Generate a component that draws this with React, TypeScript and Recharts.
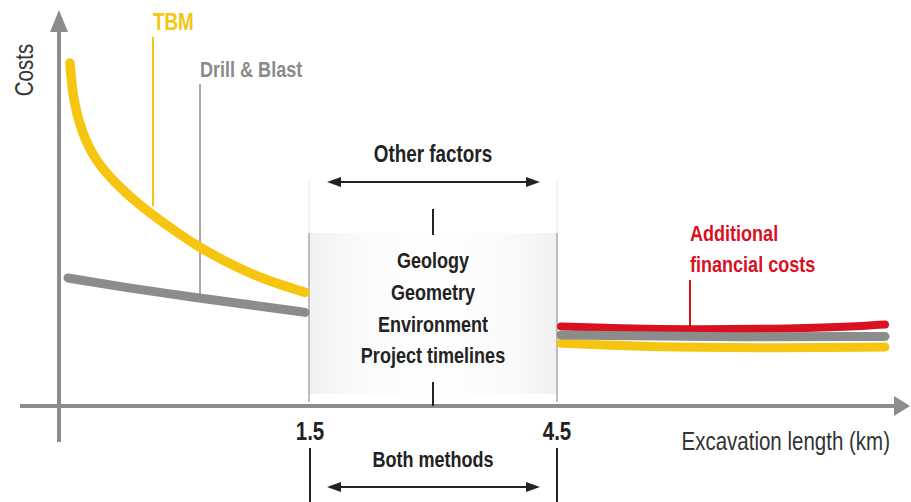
import {
  ComposedChart,
  Line,
  XAxis,
  YAxis,
  ReferenceLine,
  ReferenceDot,
} from "recharts";

// schematic cost curves, x = position along the length axis, y = relative cost
const tbmShort = [
  { pos: 1.1, cost: 85.75 },
  { pos: 1.4, cost: 76.5 },
  { pos: 2.3, cost: 68.25 },
  { pos: 3.6, cost: 61.5 },
  { pos: 5.6, cost: 55.75 },
  { pos: 7.9, cost: 50.5 },
  { pos: 10.6, cost: 45.5 },
  { pos: 13.9, cost: 39.75 },
  { pos: 17.3, cost: 35.25 },
  { pos: 20.6, cost: 31.5 },
  { pos: 24.6, cost: 28.4 },
];
const drillShort = [
  { pos: 0.9, cost: 32 },
  { pos: 6.3, cost: 29.75 },
  { pos: 13.9, cost: 27 },
  { pos: 20.0, cost: 25 },
  { pos: 24.6, cost: 23.4 },
];
const tbmLong = [
  { pos: 50.2, cost: 15.7 },
  { pos: 59.1, cost: 14.75 },
  { pos: 69.1, cost: 14.5 },
  { pos: 82.6, cost: 14.75 },
];
const drillLong = [
  { pos: 50.2, cost: 17.75 },
  { pos: 64.1, cost: 17.25 },
  { pos: 82.6, cost: 17.4 },
];
const financeLong = [
  { pos: 50.2, cost: 19.9 },
  { pos: 56.1, cost: 19.4 },
  { pos: 63.1, cost: 19.1 },
  { pos: 72.1, cost: 19.3 },
  { pos: 79.1, cost: 19.75 },
  { pos: 82.6, cost: 20.4 },
];

const lengthTicks = [25.1, 49.8];
const lengthLabels = ["1.5", "4.5"];
const factorNames = ["Geology", "Geometry", "Environment", "Project timelines"];
const factorRows = [34.5, 26.5, 18.5, 10.75];

const YELLOW = "#f6c510";
const GRAY = "#8c8c8c";
const RED = "#d8101f";
const INK = "#222";
const FONT = "'Liberation Sans', Arial, sans-serif";
const NARROW = 0.82;

const notes = [
  { text: "TBM", pos: 9.4, cost: 94, color: YELLOW, size: 23, weight: 700, anchor: "start" },
  { text: "Drill & Blast", pos: 14.1, cost: 82.25, color: "#8a8a8a", size: 22, weight: 700, anchor: "start" },
  { text: "Other factors", pos: 37.4, cost: 61, color: INK, size: 23, weight: 700, anchor: "middle" },
  ...factorNames.map((t, i) => ({ text: t, pos: 37.4, cost: factorRows[i], color: INK, size: 22, weight: 700, anchor: "middle" })),
  { text: "Both methods", pos: 37.4, cost: -15.25, color: INK, size: 22, weight: 700, anchor: "middle" },
  { text: "Excavation length (km)", pos: 83.1, cost: -11, color: "#333", size: 25, weight: 400, anchor: "end" },
  { text: "Additional", pos: 63.1, cost: 41.25, color: RED, size: 22, weight: 700, anchor: "start" },
  { text: "financial costs", pos: 63.1, cost: 33.5, color: RED, size: 22, weight: 700, anchor: "start" },
];

const arrow = (color: string, width: number, len: number, half: number, both: boolean) => (p: any) => {
  const { x1, y1, x2, y2 } = p;
  const a = Math.atan2(y2 - y1, x2 - x1);
  const head = (x: number, y: number, ang: number) => {
    const bx = x - len * Math.cos(ang);
    const by = y - len * Math.sin(ang);
    const ox = -Math.sin(ang) * half;
    const oy = Math.cos(ang) * half;
    return `${x},${y} ${bx + ox},${by + oy} ${bx - ox},${by - oy}`;
  };
  const sx = both ? x1 + Math.cos(a) * len * 0.6 : x1;
  const sy = both ? y1 + Math.sin(a) * len * 0.6 : y1;
  return (
    <g>
      <line x1={sx} y1={sy} x2={x2 - Math.cos(a) * len * 0.6} y2={y2 - Math.sin(a) * len * 0.6} stroke={color} strokeWidth={width} />
      <polygon points={head(x2, y2, a)} fill={color} />
      {both && <polygon points={head(x1, y1, a + Math.PI)} fill={color} />}
    </g>
  );
};

// the "other factors" panel: a rectangle spanning the two corners of a diagonal segment
const panel = (p: any) => {
  const x = Math.min(p.x1, p.x2);
  const y = Math.min(p.y1, p.y2);
  const w = Math.abs(p.x2 - p.x1);
  const h = Math.abs(p.y2 - p.y1);
  return (
    <g>
      <defs>
        <linearGradient id="panelShade" x1="0" y1="0" x2="1" y2="0">
          <stop offset="0%" stopColor="#f1f1f1" />
          <stop offset="18%" stopColor="#fafafa" />
          <stop offset="50%" stopColor="#ffffff" />
          <stop offset="82%" stopColor="#fafafa" />
          <stop offset="100%" stopColor="#f1f1f1" />
        </linearGradient>
      </defs>
      <rect x={x} y={y} width={w} height={h} fill="url(#panelShade)" />
    </g>
  );
};

// condensed look: regular sans squeezed horizontally
const NarrowText = ({ x, y, rotate = 0, children, ...rest }: any) => (
  <text transform={`translate(${x} ${y}) rotate(${rotate}) scale(${NARROW} 1)`} fontFamily={FONT} {...rest}>
    {children}
  </text>
);

const LengthTick = (props: any) => {
  const { x, y, payload } = props;
  const i = lengthTicks.indexOf(payload.value);
  return (
    <NarrowText x={x} y={y + 34} textAnchor="middle" fontSize={25} fontWeight={700} fill={INK}>
      {lengthLabels[i]}
    </NarrowText>
  );
};

const seg = (x1: number, y1: number, x2: number, y2: number) => [
  { x: x1, y: y1 },
  { x: x2, y: y2 },
];

export default function App() {
  return (
    <div style={{ position: "absolute", left: 0, top: 0, width: 911, height: 502, background: "#fff" }}>
      <ComposedChart width={911} height={502} margin={{ top: 10, right: 2, bottom: 56, left: 59 }}>
        <XAxis
          type="number"
          dataKey="pos"
          domain={[0, 85]}
          allowDataOverflow
          ticks={lengthTicks}
          axisLine={false}
          tickLine={false}
          tickSize={0}
          tickMargin={0}
          height={40}
          tick={<LengthTick />}
        />
        <YAxis type="number" dataKey="cost" domain={[0, 99]} allowDataOverflow hide width={0} />

        <ReferenceLine segment={seg(25, 3, 49.8, 43.25)} ifOverflow="visible" shape={panel} />
        <ReferenceLine segment={seg(25, 43.25, 25, 56.5)} stroke="#efefef" strokeWidth={1.5} ifOverflow="visible" />
        <ReferenceLine segment={seg(49.8, 43.25, 49.8, 56.5)} stroke="#efefef" strokeWidth={1.5} ifOverflow="visible" />
        <ReferenceLine segment={seg(25, 1, 25, 43.25)} stroke="#a8a8a8" strokeWidth={1.5} ifOverflow="visible" />
        <ReferenceLine segment={seg(49.8, 1, 49.8, 43.25)} stroke="#a8a8a8" strokeWidth={1.5} ifOverflow="visible" />

        {/* axes with arrowheads */}
        <ReferenceLine segment={seg(-3.9, 0, 85.1, 0)} ifOverflow="visible" shape={arrow(GRAY, 4, 16, 10, false)} />
        <ReferenceLine segment={seg(0, -9, 0, 99)} ifOverflow="visible" shape={arrow(GRAY, 4, 22, 9, false)} />

        {/* leader lines and markers */}
        <ReferenceLine segment={seg(9.4, 92.25, 9.4, 50)} stroke={YELLOW} strokeWidth={2} ifOverflow="visible" />
        <ReferenceLine segment={seg(14.1, 80.5, 14.1, 27.5)} stroke={GRAY} strokeWidth={1.5} ifOverflow="visible" />
        <ReferenceLine segment={seg(63.1, 31.5, 63.1, 19.3)} stroke={RED} strokeWidth={2} ifOverflow="visible" />
        <ReferenceLine segment={seg(37.4, 49.25, 37.4, 42.75)} stroke={INK} strokeWidth={2} ifOverflow="visible" />
        <ReferenceLine segment={seg(37.4, 6, 37.4, 0)} stroke={INK} strokeWidth={2} ifOverflow="visible" />
        <ReferenceLine segment={seg(25.1, -10.5, 25.1, -24)} stroke={INK} strokeWidth={2} ifOverflow="visible" />
        <ReferenceLine segment={seg(49.8, -10.5, 49.8, -24)} stroke={INK} strokeWidth={2} ifOverflow="visible" />
        <ReferenceLine segment={seg(26.8, 56, 48.1, 56)} ifOverflow="visible" shape={arrow(INK, 2, 14, 5, true)} />
        <ReferenceLine segment={seg(26.8, -20.25, 48.1, -20.25)} ifOverflow="visible" shape={arrow(INK, 2, 14, 5, true)} />

        <Line data={tbmShort} dataKey="cost" type="basis" stroke={YELLOW} strokeWidth={9.5} strokeLinecap="round" dot={false} activeDot={false} isAnimationActive={false} />
        <Line data={drillShort} dataKey="cost" type="basis" stroke={GRAY} strokeWidth={9} strokeLinecap="round" dot={false} activeDot={false} isAnimationActive={false} />
        <Line data={tbmLong} dataKey="cost" type="basis" stroke={YELLOW} strokeWidth={9} strokeLinecap="round" dot={false} activeDot={false} isAnimationActive={false} />
        <Line data={financeLong} dataKey="cost" type="basis" stroke={RED} strokeWidth={8} strokeLinecap="round" dot={false} activeDot={false} isAnimationActive={false} />
        <Line data={drillLong} dataKey="cost" type="basis" stroke={GRAY} strokeWidth={9} strokeLinecap="round" dot={false} activeDot={false} isAnimationActive={false} />

        {notes.map((n) => (
          <ReferenceDot
            key={n.text}
            x={n.pos}
            y={n.cost}
            ifOverflow="visible"
            shape={(p: any) => (
              <NarrowText x={p.cx} y={p.cy} textAnchor={n.anchor} fontSize={n.size} fontWeight={n.weight} fill={n.color}>
                {n.text}
              </NarrowText>
            )}
          />
        ))}
        <ReferenceDot
          x={-2.6}
          y={84}
          ifOverflow="visible"
          shape={(p: any) => (
            <NarrowText x={p.cx} y={p.cy} rotate={-90} textAnchor="middle" fontSize={25} fill="#333">
              Costs
            </NarrowText>
          )}
        />
      </ComposedChart>
    </div>
  );
}
